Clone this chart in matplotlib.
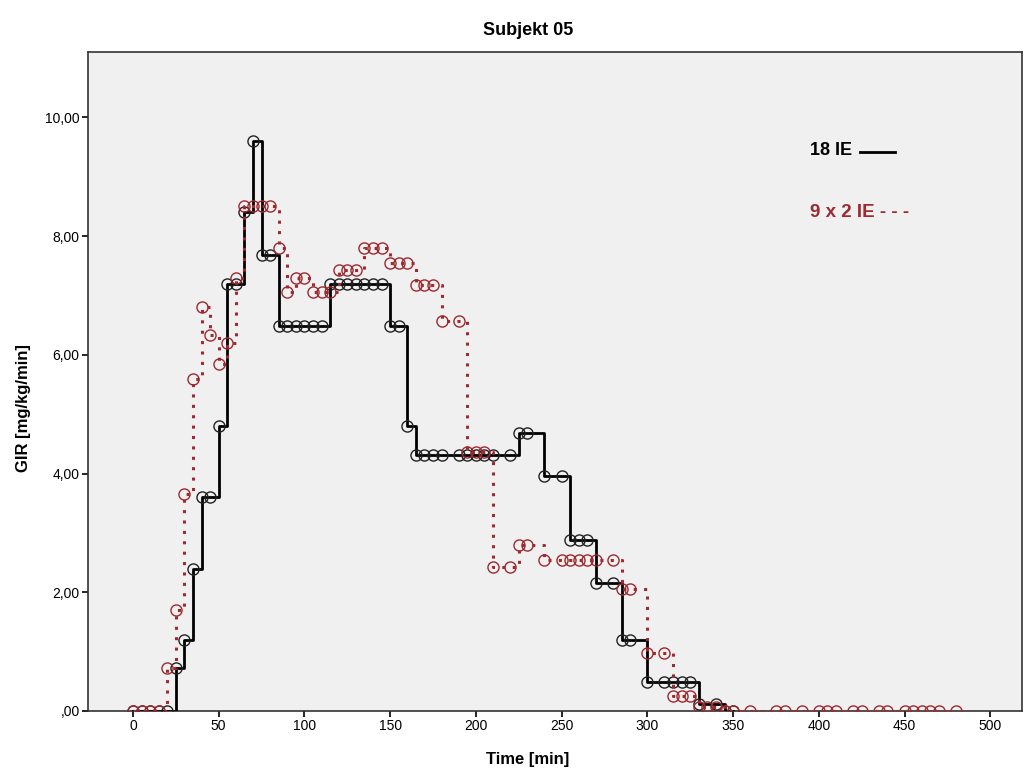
import numpy as np
import matplotlib.pyplot as plt
import matplotlib.lines as mlines

# 18 IE (single dose)
t_a = [0, 5, 10, 15, 20, 25, 30, 35, 40, 45, 50, 55, 60, 65, 70, 75, 80,
       85, 90, 95, 100, 105, 110, 115, 120, 125, 130, 135, 140, 145, 150, 155,
       160, 165, 170, 175, 180, 190, 195, 200, 205, 210, 220, 225, 230, 240,
       250, 255, 260, 265, 270, 280, 285, 290, 300, 310, 315, 320, 325, 330,
       340, 345, 350]
gir_a = [0, 0, 0, 0, 0, 0.72, 1.2, 2.4, 3.6, 3.6, 4.8, 7.2, 7.2, 8.4, 9.6,
         7.68, 7.68, 6.48, 6.48, 6.48, 6.48, 6.48, 6.48, 7.2, 7.2, 7.2, 7.2,
         7.2, 7.2, 7.2, 6.48, 6.48, 4.8, 4.32, 4.32, 4.32, 4.32, 4.32, 4.32,
         4.32, 4.32, 4.32, 4.32, 4.68, 4.68, 3.96, 3.96, 2.88, 2.88, 2.88,
         2.16, 2.16, 1.2, 1.2, 0.48, 0.48, 0.48, 0.48, 0.48, 0.12, 0.12, 0, 0]

# 9 x 2 IE (split dose)
t_b = [0, 5, 10, 15, 20, 25, 30, 35, 40, 45, 50, 55, 60, 65, 70, 75, 80,
       85, 90, 95, 100, 105, 110, 115, 120, 125, 130, 135, 140, 145, 150, 155,
       160, 165, 170, 175, 180, 190, 195, 200, 205, 210, 220, 225, 230, 240,
       250, 255, 260, 265, 270, 280, 285, 290, 300, 310, 315, 320, 325, 330,
       335, 340, 345, 350, 360, 375, 380, 390, 400, 405, 410, 420, 425, 435,
       440, 450, 455, 460, 465, 470, 480]
gir_b = [0, 0, 0, 0, 0.72, 1.7, 3.65, 5.6, 6.8, 6.33, 5.84, 6.2, 7.3, 8.5,
         8.5, 8.5, 8.5, 7.8, 7.05, 7.3, 7.3, 7.05, 7.05, 7.05, 7.42, 7.42,
         7.42, 7.8, 7.8, 7.8, 7.55, 7.55, 7.55, 7.18, 7.18, 7.18, 6.57, 6.57,
         4.37, 4.37, 4.37, 2.43, 2.43, 2.8, 2.8, 2.55, 2.55, 2.55, 2.55, 2.55,
         2.55, 2.55, 2.06, 2.06, 0.97, 0.97, 0.25, 0.25, 0.25, 0.06, 0.06, 0.06,
         0, 0, 0, 0, 0, 0, 0, 0, 0, 0, 0, 0, 0, 0, 0, 0, 0, 0, 0]

yticks = [0, 2, 4, 6, 8, 10]
ylabels = [",00", "2,00", "4,00", "6,00", "8,00", "10,00"]
xticks = [0, 50, 100, 150, 200, 250, 300, 350, 400, 450, 500]

red = "#9c2a30"

plt.rcParams['font.family'] = ['Liberation Sans', 'DejaVu Sans']

fig = plt.figure(figsize=(10.32, 7.74), dpi=100)
ax = fig.add_axes([0.0853, 0.0814, 0.9050, 0.8514])
ax.set_facecolor("#f0f0f0")

ax.plot(t_a, gir_a, drawstyle="steps-post", color="black", linewidth=2.0,
        zorder=3)
ax.plot(t_a, gir_a, linestyle="none", marker="o", markersize=8,
        markerfacecolor="none", markeredgecolor="#222222",
        markeredgewidth=1.0, zorder=4)
ax.plot(t_b, gir_b, drawstyle="steps-post", color=red, linewidth=2.2,
        linestyle=(0, (1, 2.4)), zorder=5)
ax.plot(t_b, gir_b, linestyle="none", marker="o", markersize=8,
        markerfacecolor="none", markeredgecolor=red,
        markeredgewidth=1.0, zorder=6)

ax.set_xlim(-26.2, 518.5)
ax.set_ylim(0, 11.1)
ax.set_xticks(xticks)
ax.set_yticks(yticks)
ax.set_yticklabels(ylabels)
ax.tick_params(direction="out", length=4, width=1.2, labelsize=10,
               colors="black", pad=2)
for s in ax.spines.values():
    s.set_color("#333333")
    s.set_linewidth(1.2)

ax.set_xlabel("Time [min]", fontsize=12, fontweight="bold")
ax.xaxis.set_label_coords(0.471, -0.062)
ax.set_ylabel("GIR [mg/kg/min]", fontsize=12, fontweight="bold")
ax.yaxis.set_label_coords(-0.061, 0.46)
ax.set_title("Subjekt 05", fontsize=13, fontweight="bold", x=0.471, pad=12)

ax.text(0.773, 0.851, "18 IE", transform=ax.transAxes, fontsize=13,
        fontweight="bold", color="black", va="center")
ax.add_line(mlines.Line2D([0.827, 0.864], [0.849, 0.849],
                          transform=ax.transAxes, color="black", linewidth=2))
ax.text(0.773, 0.756, "9 x 2 IE - - -", transform=ax.transAxes, fontsize=13.5,
        fontweight="bold", color=red, va="center")

fig.savefig("out.png", dpi=100)
